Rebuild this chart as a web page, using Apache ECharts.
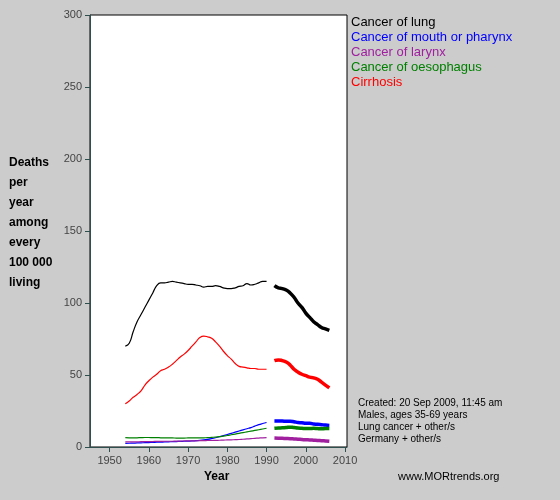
<!DOCTYPE html>
<html>
<head>
<meta charset="utf-8">
<script src="https://cdn.jsdelivr.net/npm/echarts@6/dist/echarts.min.js"></script>
<style>html,body{margin:0;padding:0;background:#cccccc}#c{width:560px;height:500px}</style>
</head>
<body>
<div id="c"></div>
<script>
// years: thin segment 1954-1990, thick segment 1992-2006
const yearsA = []
for (let y = 1954; y <= 1990; y++) yearsA.push(y)
const yearsB = []
for (let y = 1992; y <= 2006; y++) yearsB.push(y)

const lungA = [70, 72, 80, 87, 92, 97, 102, 107, 112, 114, 114, 114.5, 115, 114.5, 114, 113.5, 113, 113, 112.5, 112, 111, 111.5, 111.5, 112, 111.5, 110.5, 110, 110, 110.5, 111.5, 112, 113.5, 112.5, 113, 114, 115, 115]
const lungB = [112, 110.5, 110, 109, 107, 104, 100, 97, 93, 90, 87, 85, 83, 82, 81]
const mouthA = [2.5, 2.6, 2.7, 2.8, 2.9, 3, 3.1, 3.2, 3.3, 3.4, 3.5, 3.6, 3.7, 3.8, 3.9, 4, 4.1, 4.2, 4.4, 4.6, 4.9, 5.3, 5.8, 6.4, 7.1, 7.9, 8.7, 9.5, 10.3, 11.1, 11.9, 12.7, 13.5, 14.5, 15.5, 16.3, 17]
const mouthB = [18, 18, 18, 17.8, 17.8, 17.5, 17, 16.8, 16.5, 16.5, 16, 15.8, 15.5, 15.2, 15]
const larynxA = [3.5, 3.5, 3.6, 3.6, 3.7, 3.7, 3.8, 3.8, 3.9, 3.9, 4, 4, 4, 4.1, 4.1, 4.2, 4.2, 4.3, 4.3, 4.4, 4.4, 4.5, 4.5, 4.6, 4.7, 4.8, 4.9, 5, 5.1, 5.2, 5.4, 5.6, 5.8, 6, 6.2, 6.4, 6.5]
const larynxB = [6.2, 6.1, 6, 5.9, 5.8, 5.6, 5.4, 5.2, 5, 4.9, 4.7, 4.5, 4.4, 4.2, 4]
const oesoA = [6.5, 6.4, 6.3, 6.4, 6.5, 6.6, 6.6, 6.5, 6.5, 6.4, 6.3, 6.3, 6.3, 6.2, 6.2, 6.2, 6.3, 6.3, 6.3, 6.3, 6.4, 6.5, 6.7, 6.9, 7.2, 7.6, 8, 8.5, 9, 9.5, 10, 10.5, 11, 11.5, 12, 12.5, 13]
const oesoB = [13, 13.2, 13.3, 13.5, 13.8, 13.5, 13.2, 13, 12.8, 12.8, 13, 12.8, 12.7, 12.8, 12.8]
const cirrA = [30, 32, 34.5, 36.5, 39, 43, 46, 48.5, 50.5, 53, 54, 55.5, 57.5, 60, 62.5, 64.5, 67, 70, 73, 76, 77, 76.5, 75.5, 73, 70, 66.5, 63.5, 61, 58, 56, 55.5, 55, 54.5, 54.5, 54, 54, 54]
const cirrB = [60, 60.5, 60, 59, 57, 54, 52, 50.5, 49.5, 48.5, 48, 47, 45, 43, 41]

const names = ['Cancer of lung', 'Cancer of mouth or pharynx', 'Cancer of larynx', 'Cancer of oesophagus', 'Cirrhosis']
const colors = ['#000000', '#0000ff', '#a020a0', '#008000', '#ff0000']
const dataA = [lungA, mouthA, larynxA, oesoA, cirrA]
const dataB = [lungB, mouthB, larynxB, oesoB, cirrB]
const xTicks = [1950, 1960, 1970, 1980, 1990, 2000, 2010]
const yTicks = [0, 50, 100, 150, 200, 250, 300]

const pairs = (xs, ys) => xs.map((x, i) => [x, ys[i]])
const series = []
names.forEach((n, i) => {
    series.push({ type: 'line', name: n, data: pairs(yearsA, dataA[i]), showSymbol: false, smooth: true, lineStyle: { color: colors[i], width: 1.2 }, silent: true })
    series.push({ type: 'line', name: n, data: pairs(yearsB, dataB[i]), showSymbol: false, smooth: true, lineStyle: { color: colors[i], width: 3.5 }, silent: true })
})

const axisCol = '#2f4f4f'
const txt = (x, y, text, extra) => ({ type: 'text', left: x, top: y, style: Object.assign({ text, fontFamily: 'Liberation Sans', fontSize: 11, fill: '#000' }, extra) })
const graphic = [
    txt(9, 157, 'Deaths\n\nper\n\nyear\n\namong\n\nevery\n\n100 000\n\nliving', { fontWeight: 'bold', fontSize: 12, lineHeight: 10 }),
    txt(204, 471, 'Year', { fontWeight: 'bold', fontSize: 12 }),
    txt(358, 397, 'Created: 20 Sep 2009, 11:45 am\nMales, ages 35-69 years\nLung cancer + other/s\nGermany + other/s', { fontSize: 10, lineHeight: 12 }),
    txt(398, 471, 'www.MORtrends.org', { fontSize: 11 })
]
names.forEach((n, i) => graphic.push(txt(351, 16 + i * 15, n, { fontSize: 13, fill: colors[i] })))

const chart = echarts.init(document.getElementById('c'))
chart.setOption({
    backgroundColor: '#cccccc',
    animation: false,
    grid: { left: 90, right: 213, top: 15, bottom: 53, show: true, backgroundColor: '#ffffff', borderColor: '#000', borderWidth: 1 },
    xAxis: {
        type: 'value', min: 1945, max: 2010.5,
        axisLine: { onZero: false, lineStyle: { color: axisCol } },
        axisTick: { show: true, customValues: xTicks, lineStyle: { color: axisCol } },
        axisLabel: { color: '#444', fontSize: 11, fontFamily: 'Liberation Sans', customValues: xTicks, formatter: v => String(v) },
        splitLine: { show: false }
    },
    yAxis: {
        type: 'value', min: 0, max: 300, interval: 50,
        axisLine: { show: true, lineStyle: { color: axisCol } },
        axisTick: { show: true, customValues: yTicks, lineStyle: { color: axisCol } },
        axisLabel: { color: '#444', fontSize: 11, fontFamily: 'Liberation Sans', customValues: yTicks },
        splitLine: { show: false }
    },
    series,
    graphic
})
</script>
</body>
</html>
